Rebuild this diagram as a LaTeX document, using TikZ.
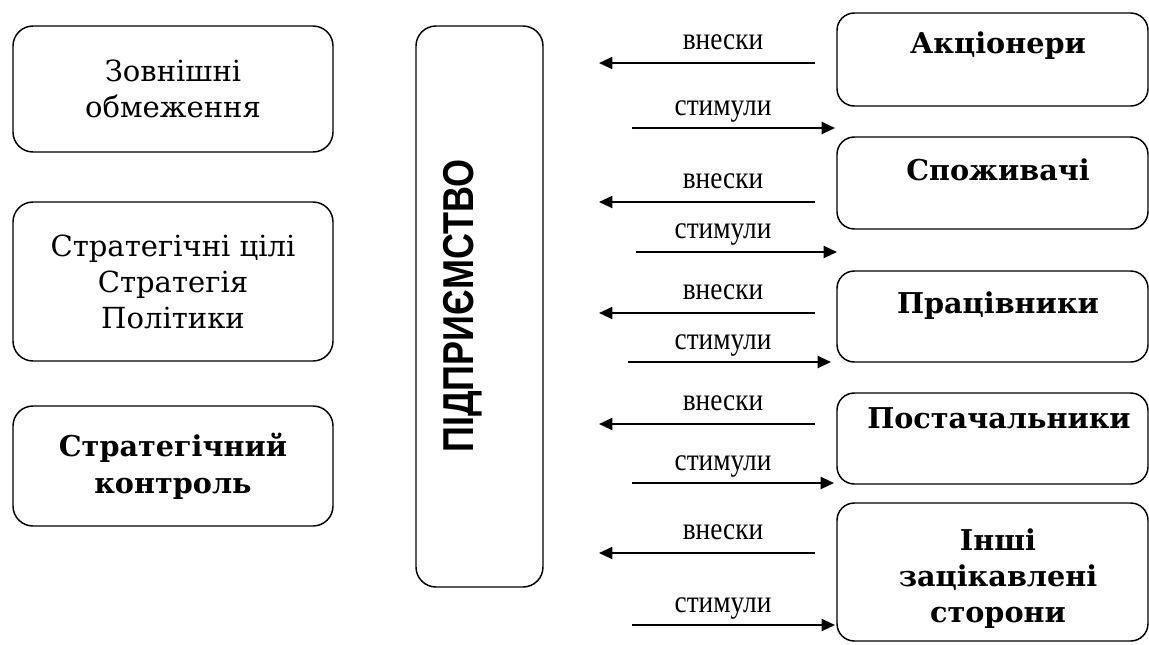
\documentclass[tikz,border=0pt]{standalone}
\usepackage{fontspec}
\setmainfont{DejaVu Serif}
\newfontfamily\lblfont{Liberation Serif}
\newfontfamily\entfont{Liberation Sans}
\usetikzlibrary{arrows.meta}
\begin{document}
\begin{tikzpicture}[x=0.75pt,y=-0.75pt,
  box/.style={draw, line width=1.1pt, rounded corners=15pt, inner sep=0pt},
  lbox/.style={box, minimum width=240pt, align=center, font=\fontsize{21.8}{27}\selectfont},
  rbox/.style={box, minimum width=233.25pt, rounded corners=13pt},
  rtxt/.style={align=center, font=\fontsize{21.5}{27}\selectfont\bfseries},
  arr/.style={line width=1.5pt, -{Triangle[length=10pt,width=9pt]}},
  lbl/.style={anchor=base, font=\lblfont\fontsize{20.5}{24}\selectfont}]
\useasboundingbox (0,0) rectangle (1149,644);
% left boxes
\node[lbox, minimum height=94.5pt] (zov) at (173,89) {Зовнішні\\обмеження};
\node[lbox, minimum height=119.25pt] (str) at (173,281.5) {Стратегічні цілі\\Стратегія\\Політики};
\node[lbox, minimum height=90pt, font=\fontsize{21.5}{27.5}\selectfont\bfseries] (kon) at (173,466) {Стратегічний\\контроль};
% middle box
\node[box, minimum width=95.25pt, minimum height=420.75pt] (pid) at (479.5,306.5) {};
\node[rotate=90, font=\entfont\fontsize{27}{30}\selectfont\bfseries] (pidt) at (463,306) {\scalebox{1}[1.2]{ПІДПРИЄМСТВО}};
% right boxes
\node[rbox, minimum height=69.75pt] (akc) at (992.5,59.5) {};
\node[rbox, minimum height=69pt] (spo) at (992.5,183) {};
\node[rbox, minimum height=68.25pt] (pra) at (992.5,316.5) {};
\node[rbox, minimum height=68.25pt] (pos) at (992.5,438.5) {};
\node[rbox, minimum height=103.5pt] (inh) at (992.5,572) {};
\node[rtxt, anchor=base] (akct) at (998,53) {Акціонери};
\node[rtxt, anchor=base] (spot) at (998,180) {Споживачі};
\node[rtxt, anchor=base] (prat) at (998,313) {Працівники};
\node[rtxt, anchor=base] (post) at (999,428) {Постачальники};
\node[rtxt] (inht) at (998,579) {Інші\\зацікавлені\\сторони};
% arrow end points
\foreach \n/\y in {1/63,2/202,3/313,4/424,5/553}{
  \coordinate (vs\n) at (815,\y);
  \coordinate (ve\n) at (599,\y);
}
\foreach \n/\y/\a/\b in {1/128/632/835,2/252/636/837,3/362/628/831,4/483/632/834,5/625/632/835}{
  \coordinate (ss\n) at (\a,\y);
  \coordinate (se\n) at (\b,\y);
}
\foreach \n in {1,...,5}{
  \draw[arr] (vs\n) -- (ve\n);
  \draw[arr] (ss\n) -- (se\n);
}
\foreach \n/\y in {1/49,2/188,3/299,4/410,5/539}{
  \node[lbl] (vl\n) at (723,\y) {\scalebox{1}[1.15]{внески}};
}
\foreach \n/\y in {1/115,2/238,3/349,4/470,5/612}{
  \node[lbl] (sl\n) at (723,\y) {\scalebox{1}[1.15]{стимули}};
}
\end{tikzpicture}
\end{document}
